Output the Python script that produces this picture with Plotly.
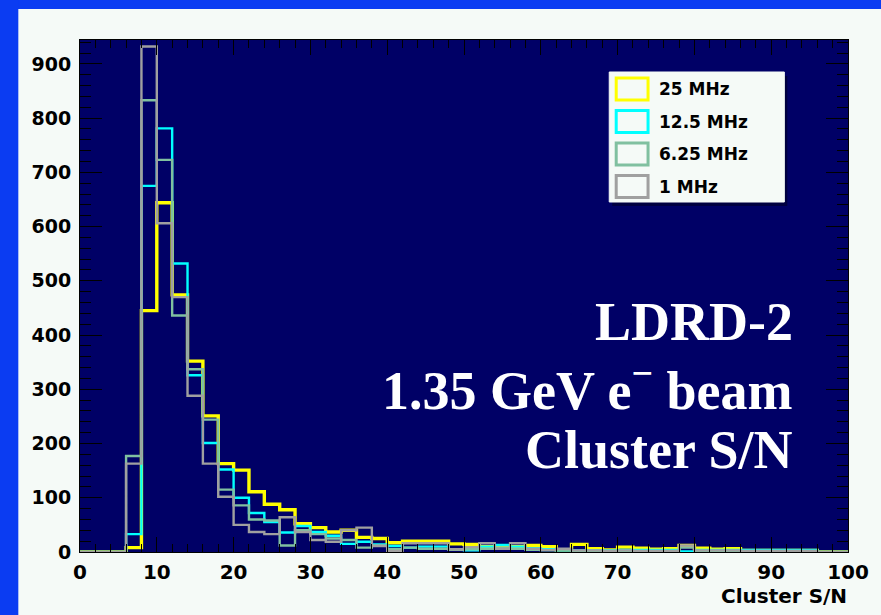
import plotly.graph_objects as go

# ---------------- data ----------------
bin_edges = list(range(0, 101, 2))  # 50 bins of width 2 on Cluster S/N
series_names = ["25 MHz", "12.5 MHz", "6.25 MHz", "1 MHz"]

counts_25MHz = [0, 0, 0, 8, 445, 644, 474, 352, 251, 163,
                151, 111, 88, 78, 52, 45, 37, 40, 27, 25,
                17, 20, 20, 20, 15, 14, 10, 8, 10, 12,
                10, 4, 14, 6, 4, 9, 7, 5, 6, 12,
                7, 5, 6, 3, 3, 3, 3, 3, 0, 0]
counts_12p5MHz = [0, 0, 0, 33, 675, 781, 532, 326, 201, 152,
                  100, 72, 55, 36, 48, 37, 30, 15, 19, 14,
                  11, 8, 10, 10, 5, 3, 10, 13, 10, 7,
                  5, 3, 3, 3, 3, 4, 4, 4, 4, 1,
                  4, 4, 4, 4, 4, 4, 4, 4, 0, 0]
counts_6p25MHz = [0, 0, 0, 177, 833, 723, 436, 337, 244, 115,
                  86, 60, 58, 12, 40, 33, 25, 22, 8, 12,
                  5, 8, 6, 6, 4, 5, 6, 8, 6, 4,
                  3, 3, 2, 2, 2, 2, 2, 2, 2, 8,
                  2, 2, 2, 2, 2, 2, 2, 2, 0, 0]
counts_1MHz = [0, 0, 0, 163, 932, 606, 470, 288, 163, 102,
               50, 37, 33, 64, 37, 22, 19, 40, 45, 11,
               2, 16, 16, 16, 5, 9, 16, 6, 16, 6,
               4, 6, 3, 3, 2, 3, 2, 2, 2, 12,
               3, 3, 3, 2, 2, 2, 2, 2, 0, 0]

x_ticks = list(range(0, 101, 10))
y_ticks = list(range(0, 901, 100))
x_title = "Cluster S/N"
label_lines = ["LDRD-2", "1.35 GeV e<sup>\u2212</sup> beam", "Cluster S/N"]

# ---------------- styles ----------------
colors = ["#ffff00", "#00ffff", "#80c0a0", "#a0a0a0"]
widths = [3.4, 2.4, 2.4, 2.4]
all_counts = [counts_25MHz, counts_12p5MHz, counts_6p25MHz, counts_1MHz]

W, H = 881, 615
ML, MR, MT, MB = 80, 29, 40, 63
PW, PH = W - ML - MR, H - MT - MB
BLUE = "#0b3cf2"
CANVAS = "#f5faf7"


def px(x):
    return (x - ML) / PW


def py(y):
    return (H - MB - y) / PH


fig = go.Figure()
for name, c, w, vals in zip(series_names, colors, widths, all_counts):
    fig.add_trace(go.Scatter(
        x=bin_edges, y=vals + [vals[-1]], mode="lines", name=name,
        line=dict(color=c, width=w, shape="hv"), showlegend=False,
        hoverinfo="skip"))

tickfont_y = dict(family="DejaVu Sans", size=19, color="black", weight="bold")
tickfont_x = dict(family="DejaVu Sans", size=20, color="black", weight="bold")

fig.update_xaxes(range=[0, 100], tickvals=x_ticks, ticks="inside", ticklen=15,
                 tickwidth=1, tickcolor="black", showline=True, linecolor="black",
                 linewidth=1, mirror="allticks", showgrid=False, zeroline=False,
                 tickfont=tickfont_x, ticklabelstandoff=2,
                 minor=dict(ticks="inside", ticklen=8, dtick=2, tickcolor="black",
                            showgrid=False))
fig.update_yaxes(range=[0, 944], tickvals=y_ticks, ticks="inside", ticklen=22,
                 tickwidth=1, tickcolor="black", showline=True, linecolor="black",
                 linewidth=1, mirror="allticks", showgrid=False, zeroline=False,
                 tickfont=tickfont_y, ticklabelstandoff=4,
                 minor=dict(ticks="inside", ticklen=11, dtick=20, tickcolor="black",
                            showgrid=False))

shapes = []
# blue slide background strips (top and left) outside the white canvas
shapes.append(dict(type="rect", xref="paper", yref="paper", layer="below",
                   x0=px(-5), x1=px(W + 5), y0=py(9), y1=py(-5),
                   fillcolor=BLUE, line=dict(width=0)))
shapes.append(dict(type="rect", xref="paper", yref="paper", layer="below",
                   x0=px(-5), x1=px(18), y0=py(H + 5), y1=py(-5),
                   fillcolor=BLUE, line=dict(width=0)))
# legend box
lx0, lx1, ly0, ly1 = 612, 788, 72, 202
shapes.append(dict(type="rect", xref="paper", yref="paper", layer="above",
                   x0=px(lx0 + 3), x1=px(lx1 + 3), y0=py(ly0 + 4), y1=py(ly1 + 4),
                   fillcolor="#000040", line=dict(width=0)))
shapes.append(dict(type="rect", xref="paper", yref="paper", layer="above",
                   x0=px(lx0), x1=px(lx1), y0=py(ly0), y1=py(ly1),
                   fillcolor=CANVAS, line=dict(color=CANVAS, width=1)))
annotations = []
row_centers = [89, 121.5, 154, 186.5]
for name, c, yc in zip(series_names, colors, row_centers):
    shapes.append(dict(type="rect", xref="paper", yref="paper", layer="above",
                       x0=px(619), x1=px(651), y0=py(yc - 11), y1=py(yc + 11),
                       fillcolor=CANVAS, line=dict(color=c, width=3)))
    annotations.append(dict(text=name, xref="paper", yref="paper", x=px(660), y=py(yc),
                            xanchor="left", yanchor="middle", showarrow=False,
                            font=dict(family="DejaVu Sans", size=17, color="black",
                                      weight="bold")))

# big white label
for txt, yc in zip(label_lines, [322, 386, 450]):
    annotations.append(dict(text=txt, xref="paper", yref="paper", x=px(799), y=py(yc),
                            xanchor="right", yanchor="middle", showarrow=False,
                            font=dict(family="Liberation Serif", size=54, color="white",
                                      weight="bold")))

# axis title
annotations.append(dict(text=x_title, xref="paper", yref="paper", x=px(853), y=py(596),
                        xanchor="right", yanchor="middle", showarrow=False,
                        font=dict(family="DejaVu Sans", size=20, color="black",
                                  weight="bold")))

fig.update_layout(width=W, height=H, margin=dict(l=ML, r=MR, t=MT, b=MB, pad=0),
                  paper_bgcolor=CANVAS, plot_bgcolor="#000066",
                  shapes=shapes, annotations=annotations, showlegend=False)

fig.write_html("out.html")
